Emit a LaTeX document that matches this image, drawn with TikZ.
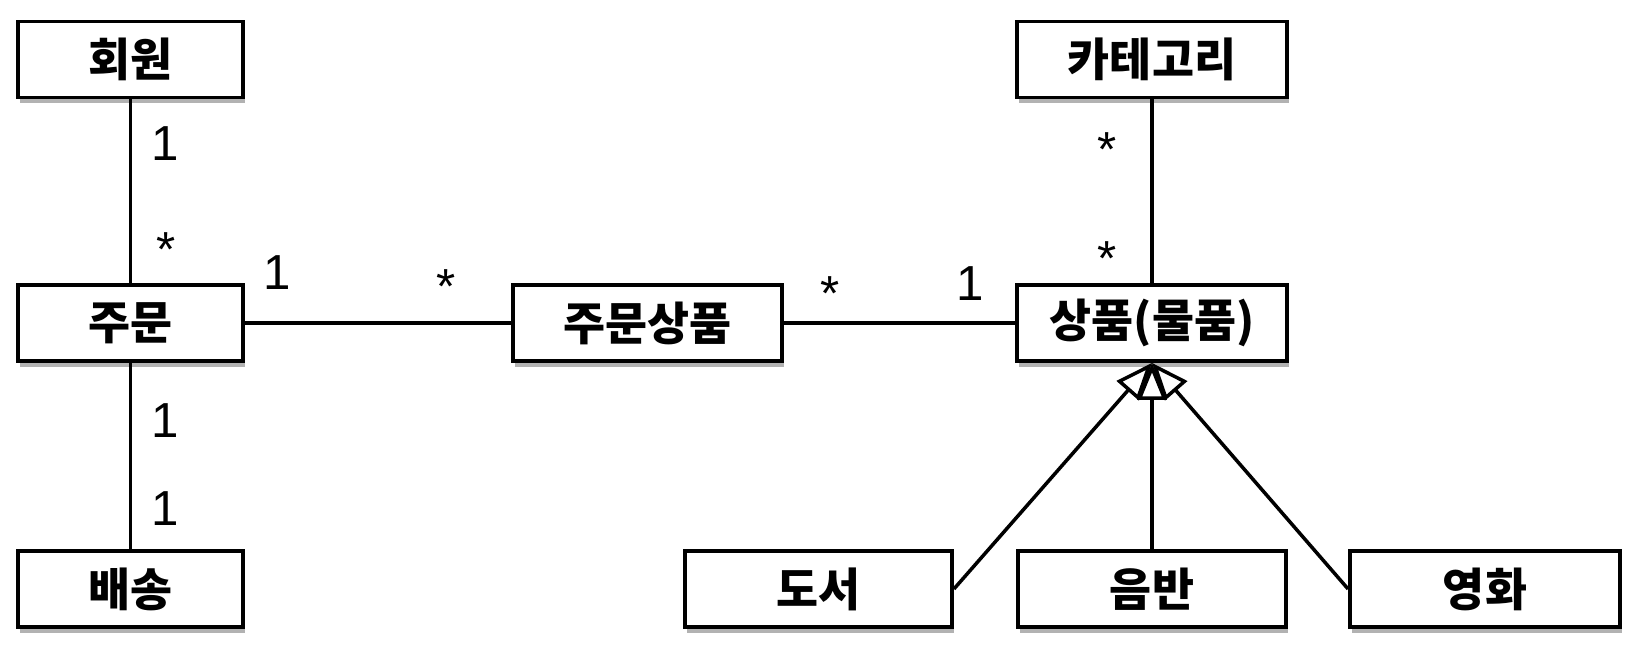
\documentclass[tikz,border=0pt]{standalone}
\usepackage{fontspec}
\setmainfont{Liberation Sans}
\newfontfamily\krfont{Noto Sans CJK KR}
\usetikzlibrary{arrows.meta, shadows}

\begin{document}
\begin{tikzpicture}
  \tikzset{
    entity/.style={draw, line width=1.1pt, fill=white, minimum height=0.76cm, inner sep=0pt,
      font=\krfont\bfseries\fontsize{13}{15}\selectfont,
      drop shadow={shadow xshift=0.2mm, shadow yshift=-0.6mm, fill=black, opacity=0.3}},
    assoc/.style={line width=1pt},
    inherit/.style={line width=1pt, -{Triangle[fill=white, length=3.7mm, width=2.9mm]}},
    mult/.style={anchor=base, font=\fontsize{14}{16}\selectfont}
  }
  \useasboundingbox (0,0) rectangle (16.44,6.56);

  % entities: name/x/y/width/text
  \foreach \nm/\cx/\cy/\w/\txt in {
    member/1.305/5.965/2.25/회원,
    order/1.305/3.33/2.25/주문,
    delivery/1.305/0.67/2.25/배송,
    orderitem/6.475/3.33/2.69/주문상품,
    category/11.52/5.965/2.70/카테고리,
    item/11.52/3.33/2.70/상품(물품),
    book/8.185/0.67/2.67/도서,
    album/11.52/0.67/2.68/음반,
    movie/14.85/0.67/2.70/영화
  }{
    \node[entity, minimum width=\w cm] (\nm) at (\cx,\cy) {\txt};
  }

  % associations
  \draw[assoc] (member) -- (order);
  \draw[assoc] (order) -- (delivery);
  \draw[assoc] (order) -- (orderitem);
  \draw[assoc] (orderitem) -- (item);
  \draw[assoc] (category) -- (item);

  % generalisation
  \draw[inherit] (book.east) -- (item.south);
  \draw[inherit] (movie.west) -- (item.south);
  \draw[inherit] (album.north) -- (item.south);

  % multiplicities
  \foreach \mx/\my/\lbl in {
    1.65/4.955/1,
    1.66/3.89/*,
    2.77/3.665/1,
    4.46/3.52/*,
    8.30/3.45/*,
    9.70/3.555/1,
    11.07/4.89/*,
    11.07/3.80/*,
    1.65/2.185/1,
    1.65/1.305/1
  }{
    \node[mult] at (\mx,\my) {\lbl};
  }
\end{tikzpicture}
\end{document}
